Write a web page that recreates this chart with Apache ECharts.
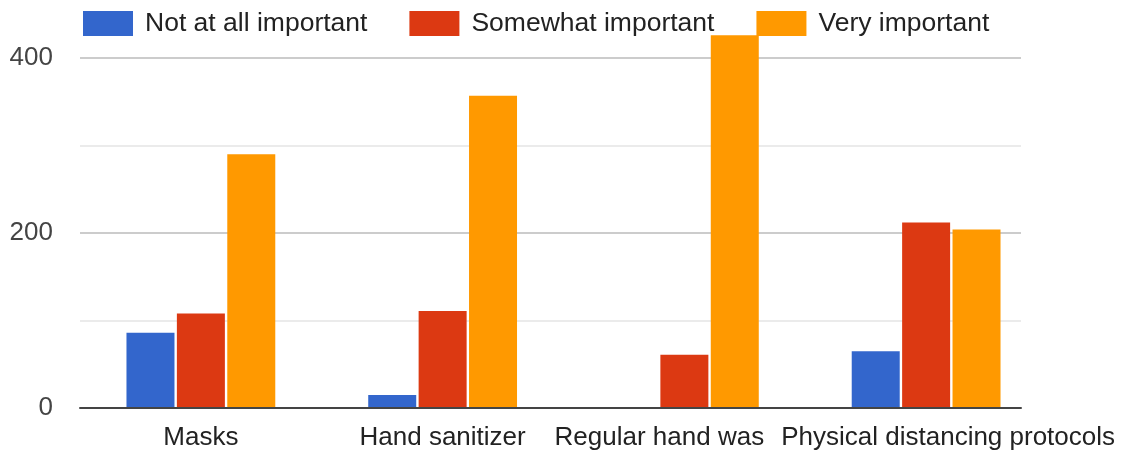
<!DOCTYPE html>
<html>
<head>
<meta charset="utf-8">
<script src="https://cdn.jsdelivr.net/npm/echarts@6/dist/echarts.min.js"></script>
<style>
html,body{margin:0;padding:0;background:#fff;}
#c{width:1124px;height:454px;}
</style>
</head>
<body>
<div id="c"></div>
<script>
const categories = ['Masks', 'Hand sanitizer', 'Regular hand washing', 'Physical distancing protocols'];
const seriesNames = ['Not at all important', 'Somewhat important', 'Very important'];
const notAtAll = [86, 15, 0, 65];
const somewhat = [108, 111, 61, 212];
const very = [290, 357, 426, 204];
const yTicks = [0, 200, 400];

const colors = ['#3366cc', '#dc3912', '#ff9900'];
const values = [notAtAll, somewhat, very];
const FONT = '"Liberation Sans", Arial, sans-serif';

const chart = echarts.init(document.getElementById('c'), null, {renderer: 'canvas'});

const labelPadding = {
  'Regular hand washing': [0, 50, 0, 0],
  'Physical distancing protocols': [0, 0, 0, 44]
};

const option = {
  animation: false,
  textStyle: {fontFamily: FONT},
  legend: {
    left: 78,
    top: 5,
    itemWidth: 50,
    itemHeight: 25,
    itemGap: 42,
    icon: 'rect',
    data: seriesNames,
    textStyle: {fontSize: 26.5, color: '#222', fontFamily: FONT, padding: [0, 0, 0, 7]}
  },
  grid: [
    {left: 80, right: 77, top: 23, bottom: 46},
    {left: 80, right: 103, top: 58, bottom: 46}
  ],
  xAxis: [
    {
      type: 'category',
      gridIndex: 0,
      data: categories.map(c => labelPadding[c]
        ? {value: c, textStyle: {padding: labelPadding[c]}}
        : c),
      axisLine: {show: false},
      axisTick: {show: false},
      axisLabel: {
        fontSize: 26, color: '#222', fontFamily: FONT, margin: 17, interval: 0,
        formatter: function (v) { return v === 'Regular hand washing' ? 'Regular hand was' : v; }
      },
      splitLine: {show: false}
    },
    {
      type: 'value',
      gridIndex: 1,
      min: 0, max: 1,
      axisLine: {show: true, onZero: false, lineStyle: {color: '#444', width: 2}},
      axisTick: {show: false},
      axisLabel: {show: false},
      splitLine: {show: false},
      z: 10
    }
  ],
  yAxis: [
    {
      type: 'value',
      gridIndex: 0,
      min: 0, max: 440,
      show: false,
      splitLine: {show: false}
    },
    {
      type: 'value',
      gridIndex: 1,
      min: 0, max: 400, interval: 100,
      axisLine: {show: false},
      axisTick: {show: false},
      axisLabel: {
        fontSize: 26, color: '#444', fontFamily: FONT, margin: 27,
        formatter: function (v) { return yTicks.indexOf(v) >= 0 ? String(v) : ''; }
      },
      splitLine: {show: true, lineStyle: {color: ['#cccccc', '#ebebeb'], width: 2}}
    }
  ],
  series: seriesNames.map((name, i) => ({
    name: name,
    type: 'bar',
    xAxisIndex: 0,
    yAxisIndex: 0,
    data: values[i],
    barWidth: 48,
    barGap: '5%',
    itemStyle: {color: colors[i]},
    z: 3
  })),
  color: colors
};

chart.setOption(option);
</script>
</body>
</html>
